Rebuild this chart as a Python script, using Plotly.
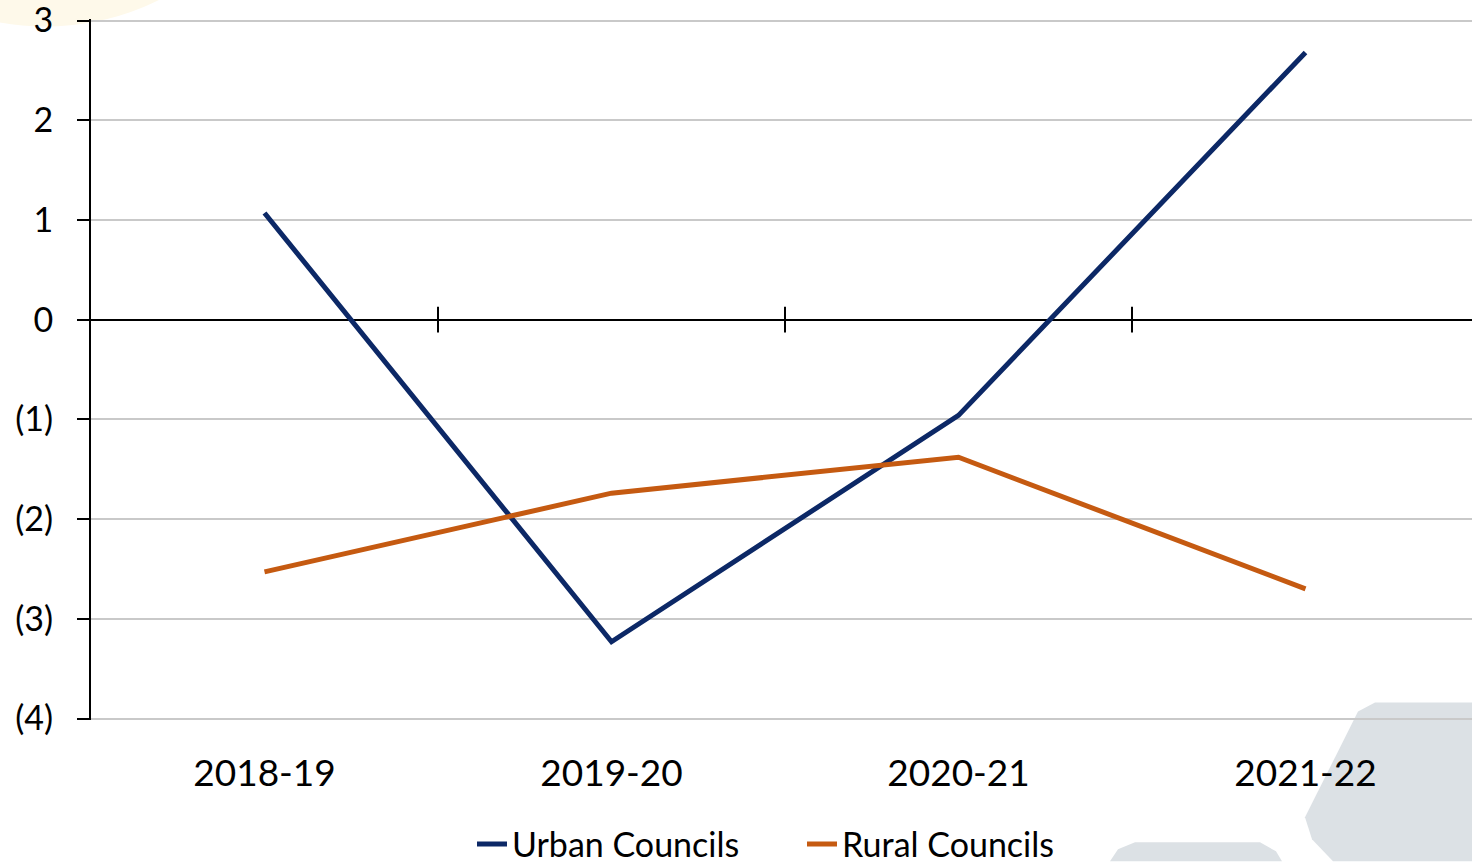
import plotly.graph_objects as go

# Financial years on the category axis
years = ["2018-19", "2019-20", "2020-21", "2021-22"]

# Series values
urban_councils = [1.07, -3.23, -0.96, 2.68]
rural_councils = [-2.53, -1.74, -1.38, -2.70]

# Value axis ticks: negatives shown in accounting brackets
y_ticks = [-4, -3, -2, -1, 0, 1, 2, 3]
y_tick_text = ["(4)", "(3)", "(2)", "(1)", "0", "1", "2", "3"]

NAVY = "#0c2866"
ORANGE = "#c55a11"
FONT = "Lato, 'Open Sans', sans-serif"

W, H = 1472, 862
ML, MR, MT, MB = 91, 0, 18.5, 141.5
plot_w = W - ML - MR
plot_h = H - MT - MB
cat_px = 347  # width of one category band in pixels
Y_PAD = 0.015  # small pad so the end gridlines are not clipped


def px(x):
    return (x - ML) / plot_w


def py(y):
    return (H - MB - y) / plot_h


fig = go.Figure()
fig.add_trace(go.Scatter(x=years, y=urban_councils, mode="lines", name="Urban Councils",
                         line=dict(color=NAVY, width=5)))
fig.add_trace(go.Scatter(x=years, y=rural_councils, mode="lines", name="Rural Councils",
                         line=dict(color=ORANGE, width=5)))

shapes = []
# decorative background: cream blob top-left, grey rounded hexagons bottom-right
shapes.append(dict(type="circle", xref="paper", yref="paper", layer="below",
                   x0=px(-213), x1=px(303), y0=py(-490), y1=py(26),
                   fillcolor="#fef9ea", line=dict(width=0)))
hex1 = [(1375, 703), (1472, 703), (1472, 862), (1333, 862), (1312, 840),
        (1305, 818), (1358, 712)]
path1 = "M " + " L ".join(f"{px(a):.5f},{py(b):.5f}" for a, b in hex1) + " Z"
shapes.append(dict(type="path", xref="paper", yref="paper", layer="below",
                   path=path1, fillcolor="#dce1e5", line=dict(width=0)))
hex2 = [(1135, 843), (1260, 843), (1276, 852), (1282, 862), (1110, 862), (1118, 850)]
path2 = "M " + " L ".join(f"{px(a):.5f},{py(b):.5f}" for a, b in hex2) + " Z"
shapes.append(dict(type="path", xref="paper", yref="paper", layer="below",
                   path=path2, fillcolor="#dce1e5", line=dict(width=0)))

# cross ticks on the zero line at the boundaries between categories
for i in range(len(years) - 1):
    shapes.append(dict(type="line", xref="x", yref="y", x0=i + 0.5, x1=i + 0.5,
                       y0=-0.13, y1=0.13, line=dict(color="black", width=2)))

fig.update_layout(
    width=W, height=H,
    margin=dict(l=ML, r=MR, t=MT, b=MB, autoexpand=False),
    paper_bgcolor="white", plot_bgcolor="rgba(0,0,0,0)",
    font=dict(family=FONT, color="black"),
    showlegend=True,
    legend=dict(orientation="h", x=px(802), xanchor="center", y=py(845), yanchor="middle",
                font=dict(size=34, family=FONT), bgcolor="rgba(0,0,0,0)",
                itemwidth=30, tracegroupgap=0, entrywidth=285, entrywidthmode="pixels"),
    shapes=shapes,
    xaxis=dict(type="category", range=[-0.5, -0.5 + plot_w / cat_px],
               showline=False, showgrid=False, zeroline=False, ticks="",
               tickfont=dict(size=37, family=FONT), ticklabelstandoff=28),
    yaxis=dict(range=[-4 - Y_PAD, 3 + Y_PAD], tickvals=y_ticks, ticktext=y_tick_text,
               showgrid=True, gridcolor="#c9c9c9", gridwidth=2,
               zeroline=True, zerolinecolor="black", zerolinewidth=2,
               showline=True, linecolor="black", linewidth=2,
               ticks="outside", ticklen=12, tickwidth=2, tickcolor="black",
               ticklabeloverflow="allow",
               tickfont=dict(size=34, family=FONT), ticklabelstandoff=17),
)

fig.write_html("out.html")
